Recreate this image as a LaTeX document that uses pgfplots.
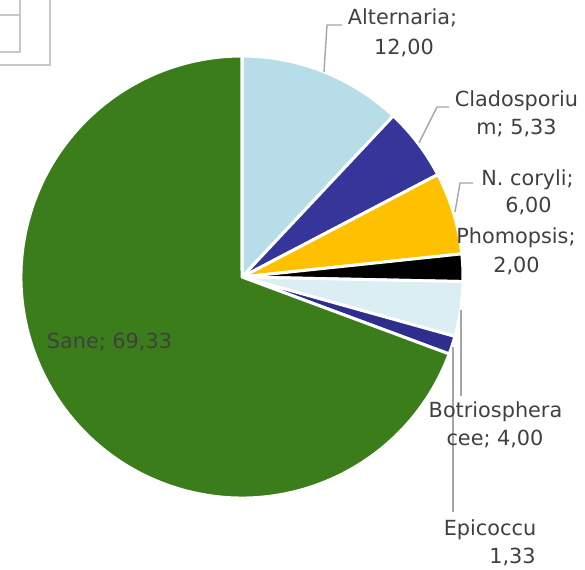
\documentclass[border=0pt]{standalone}
\usepackage{fontspec}
\setmainfont{DejaVu Sans}
\usepackage{pgfplots}
\pgfplotsset{compat=1.18}
\definecolor{cAlt}{HTML}{B7DEE8}
\definecolor{cCla}{HTML}{35359A}
\definecolor{cNco}{HTML}{FFC000}
\definecolor{cPho}{HTML}{000000}
\definecolor{cBot}{HTML}{DAEEF3}
\definecolor{cEpi}{HTML}{2E2E8C}
\definecolor{cSan}{HTML}{3C7D1B}
\definecolor{txt}{HTML}{404040}
\definecolor{lead}{HTML}{A6A6A6}
\definecolor{leg}{HTML}{C8C8C8}
% slice: start (%), value (%), colour
\newcommand\slice[3]{%
  \pgfmathsetmacro\sa{90-3.6*#1}%
  \pgfmathsetmacro\sb{90-3.6*(#1+#2)}%
  \pgfmathsetmacro\px{242+221*cos(\sa)}%
  \pgfmathsetmacro\py{293+221*sin(\sa)}%
  \filldraw[fill=#3,draw=white,line width=3bp,line join=round]
    (axis cs:242,293) -- (axis cs:\px,\py) arc[start angle=\sa,end angle=\sb,radius=221bp] -- cycle;}
\begin{document}
\begin{tikzpicture}
\begin{axis}[width=585bp,height=570bp,scale only axis,
  xmin=0,xmax=585,ymin=0,ymax=570,hide axis,clip=false]
\pgfplotsextra{%
  \slice{0}{12.00}{cAlt}%
  \slice{12.00}{5.33}{cCla}%
  \slice{17.33}{6.00}{cNco}%
  \slice{23.33}{2.00}{cPho}%
  \slice{25.33}{4.00}{cBot}%
  \slice{29.33}{1.33}{cEpi}%
  \slice{30.66}{69.33}{cSan}%
}
% partial legend box
\draw[leg,line width=1.2bp] (axis cs:0,505) -- (axis cs:50,505) -- (axis cs:50,570);
\draw[leg,line width=1.2bp] (axis cs:0,555) -- (axis cs:20,555);
\draw[leg,line width=1.2bp] (axis cs:0,518) -- (axis cs:20,518) -- (axis cs:20,570);
% leader lines
\draw[lead,line width=1.4bp] (axis cs:324,498) -- (axis cs:327,545) -- (axis cs:342,545);
\draw[lead,line width=1.4bp] (axis cs:419,427) -- (axis cs:437,463) -- (axis cs:449,463);
\draw[lead,line width=1.4bp] (axis cs:455,358) -- (axis cs:460,387) -- (axis cs:473,387);
\draw[lead,line width=1.4bp] (axis cs:461,260) -- (axis cs:461,174);
\draw[lead,line width=1.4bp] (axis cs:453,223) -- (axis cs:453,58);
% labels
\tikzset{lab/.style={anchor=base,text=txt,inner sep=0pt,font=\fontsize{20.8bp}{24bp}\selectfont}}
\node[lab] at (axis cs:402.5,545) {Alternaria;};
\node[lab] at (axis cs:404,515) {12,00};
\node[lab] at (axis cs:516.5,463) {Cladosporiu};
\node[lab] at (axis cs:516.5,435) {m; 5,33};
\node[lab] at (axis cs:527.5,385) {N. coryli;};
\node[lab] at (axis cs:528.5,358) {6,00};
\node[lab] at (axis cs:516,327) {Phomopsis;};
\node[lab] at (axis cs:516.5,298) {2,00};
\node[lab] at (axis cs:495.5,153) {Botriosphera};
\node[lab] at (axis cs:495,125) {cee; 4,00};
\node[lab] at (axis cs:490,35) {Epicoccu};
\node[lab] at (axis cs:512.5,7) {1,33};
\node[lab] at (axis cs:109.5,222) {Sane; 69,33};
\end{axis}
\pgfresetboundingbox
\path (0,0) rectangle (585bp,570bp);
\end{tikzpicture}
\end{document}
